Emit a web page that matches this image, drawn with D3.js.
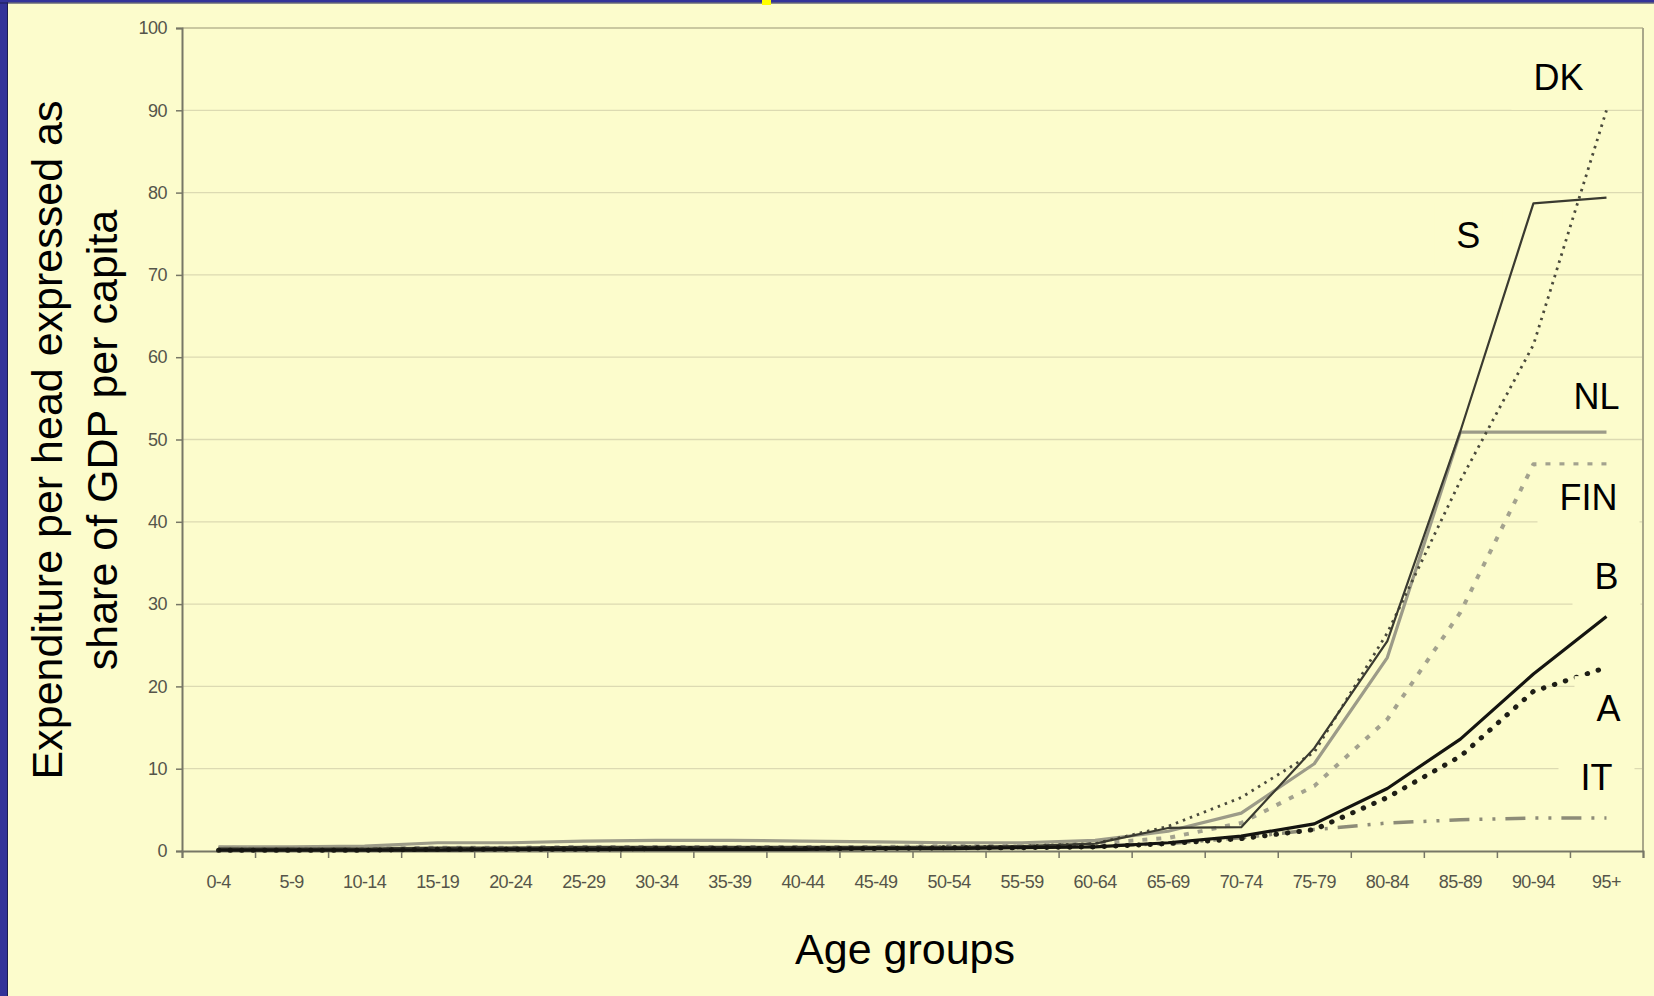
<!DOCTYPE html>
<html>
<head>
<meta charset="utf-8">
<script src="https://cdn.jsdelivr.net/npm/d3@7"></script>
<style>
  html, body { margin: 0; padding: 0; background: #fcfccc; }
  svg { display: block; }
</style>
</head>
<body>
<svg id="chart" width="1654" height="996"></svg>
<script>
// age bands on the x axis
const ageGroups = ['0-4', '5-9', '10-14', '15-19', '20-24', '25-29', '30-34', '35-39', '40-44', '45-49',
    '50-54', '55-59', '60-64', '65-69', '70-74', '75-79', '80-84', '85-89', '90-94', '95+']

// expenditure per head, % of GDP per capita
const dk  = [0.2, 0.2, 0.2, 0.3, 0.3, 0.3, 0.4, 0.4, 0.4, 0.4, 0.5, 0.6, 0.9, 3.0, 6.5, 12.0, 26.5, 45.0, 61.5, 90.0]
const s   = [0.3, 0.3, 0.3, 0.4, 0.4, 0.5, 0.5, 0.5, 0.5, 0.5, 0.5, 0.6, 0.9, 2.8, 2.9, 12.5, 25.5, 51.0, 78.7, 79.4]
const nl  = [0.5, 0.5, 0.6, 1.0, 1.0, 1.2, 1.3, 1.3, 1.2, 1.1, 1.0, 1.0, 1.3, 2.4, 4.6, 10.6, 23.5, 50.9, 50.9, 50.9]
const fin = [0.4, 0.3, 0.3, 0.4, 0.4, 0.5, 0.5, 0.5, 0.5, 0.5, 0.6, 0.7, 0.9, 1.6, 3.4, 7.9, 16.0, 29.0, 47.0, 47.0]
const b   = [0.1, 0.1, 0.1, 0.1, 0.2, 0.2, 0.2, 0.2, 0.2, 0.3, 0.3, 0.4, 0.5, 1.0, 1.8, 3.3, 7.6, 13.6, 21.5, 28.5]
const a   = [0.1, 0.1, 0.1, 0.2, 0.2, 0.2, 0.3, 0.3, 0.3, 0.3, 0.4, 0.4, 0.5, 0.9, 1.5, 2.6, 6.5, 11.5, 19.4, 22.3]
const it  = [0.3, 0.3, 0.3, 0.3, 0.3, 0.4, 0.4, 0.4, 0.4, 0.4, 0.4, 0.5, 0.6, 0.9, 1.6, 2.6, 3.4, 3.8, 4.0, 4.0]

const yTicks = [0, 10, 20, 30, 40, 50, 60, 70, 80, 90, 100]

// line looks, drawn in this order (grey ones underneath)
const series = [
    { name: 'NL',  values: nl,  color: '#9c9b88', width: 3.2, dash: null },
    { name: 'FIN', values: fin, color: '#a3a28e', width: 4,   dash: '5,9' },
    { name: 'IT',  values: it,  color: '#8d8c78', width: 3.5, dash: '20,10,3,10,3,10' },
    { name: 'DK',  values: dk,  color: '#4a4a3c', width: 2.8, dash: '2.5,5' },
    { name: 'S',   values: s,   color: '#3a3a30', width: 2.2, dash: null },
    { name: 'A',   values: a,   color: '#1e1e16', width: 5,   dash: '0.5,11', cap: 'round' },
    { name: 'B',   values: b,   color: '#141410', width: 3.2, dash: null }
]

// where each country name sits: band + pixel nudge, value for height
const labels = [
    { text: 'DK',  band: '95+',   dx: -48, v: 94.0 },
    { text: 'S',   band: '85-89', dx: 8,   v: 74.8 },
    { text: 'NL',  band: '95+',   dx: -10, v: 55.2 },
    { text: 'FIN', band: '95+',   dx: -18, v: 42.9 },
    { text: 'B',   band: '95+',   dx: 0,   v: 33.4 },
    { text: 'A',   band: '95+',   dx: 2,   v: 17.3 },
    { text: 'IT',  band: '95+',   dx: -10, v: 8.9 }
]

const W = 1654, H = 996
const plot = { left: 182, right: 1643, top: 28, bottom: 851 }
const bg = '#fcfccc'

const svg = d3.select('#chart')

svg.append('rect').attr('width', W).attr('height', H).attr('fill', bg)

// slide frame
svg.append('rect').attr('x', 0).attr('y', 0).attr('width', 7).attr('height', H).attr('fill', '#333399')
svg.append('rect').attr('x', 7).attr('y', 0).attr('width', 1).attr('height', H).attr('fill', '#1c1c50')
svg.append('rect').attr('x', 0).attr('y', 0).attr('width', W).attr('height', 2.5).attr('fill', '#333399')
svg.append('rect').attr('x', 0).attr('y', 2.5).attr('width', W).attr('height', 1).attr('fill', '#1c1c50')
svg.append('rect').attr('x', 762).attr('y', 0).attr('width', 9).attr('height', 5).attr('fill', '#ffff00')

const x = d3.scaleBand().domain(ageGroups).range([plot.left, plot.right])
const xEdge = d3.scaleLinear().domain([0, ageGroups.length]).range([plot.left, plot.right])
const y = d3.scaleLinear().domain([0, 100]).range([plot.bottom, plot.top])
const cx = d => x(d) + x.bandwidth() / 2

// gridlines
svg.append('g')
    .selectAll('line')
    .data(yTicks.filter(t => t > 0 && t < 100))
    .join('line')
    .attr('x1', plot.left).attr('x2', plot.right)
    .attr('y1', d => y(d)).attr('y2', d => y(d))
    .attr('stroke', '#dcdab2')
    .attr('stroke-width', 1.3)

// label patches that hide the gridlines behind the names
const labelG = svg.append('g')
labels.forEach(l => {
    let t = labelG.append('text')
        .attr('x', cx(l.band) + l.dx)
        .attr('y', y(l.v))
        .attr('text-anchor', 'middle')
        .attr('dominant-baseline', 'central')
        .style('font-family', '"Liberation Sans", Arial, sans-serif')
        .style('font-size', '36px')
        .attr('fill', '#000')
        .text(l.text)
    let bb = t.node().getBBox()
    labelG.insert('rect', 'text')
        .attr('x', bb.x - 22)
        .attr('y', bb.y - 12)
        .attr('width', Math.min(bb.width + 44, plot.right - 1 - (bb.x - 22)))
        .attr('height', bb.height + 24)
        .attr('fill', bg)
})

// frame of the plot area
svg.append('line')
    .attr('x1', plot.left).attr('x2', plot.right)
    .attr('y1', plot.top).attr('y2', plot.top)
    .attr('stroke', '#cac8a0').attr('stroke-width', 2.2)
svg.append('line')
    .attr('x1', plot.right).attr('x2', plot.right)
    .attr('y1', plot.top).attr('y2', plot.bottom)
    .attr('stroke', '#a9a78a').attr('stroke-width', 2)

// y axis
const yAxis = svg.append('g')
    .attr('transform', `translate(${plot.left},0)`)
    .call(d3.axisLeft(y).tickValues(yTicks).tickSize(6).tickPadding(9))
yAxis.select('.domain').attr('stroke', '#777766').attr('stroke-width', 2)
yAxis.selectAll('.tick line').attr('stroke', '#777766').attr('stroke-width', 1.5)
yAxis.selectAll('.tick text')
    .style('font-family', '"Liberation Sans", Arial, sans-serif')
    .style('font-size', '18px')
    .style('letter-spacing', '-0.5px')
    .attr('fill', '#55554a')

// x axis: ticks on band edges, names in the middle
const xTickAxis = svg.append('g')
    .attr('transform', `translate(0,${plot.bottom})`)
    .call(d3.axisBottom(xEdge).ticks(ageGroups.length).tickSize(7).tickFormat(''))
xTickAxis.select('.domain').attr('stroke', '#777766').attr('stroke-width', 2)
xTickAxis.selectAll('.tick line').attr('stroke', '#777766').attr('stroke-width', 1.5)

const xAxis = svg.append('g')
    .attr('transform', `translate(0,${plot.bottom})`)
    .call(d3.axisBottom(x).tickSize(0).tickPadding(24))
xAxis.select('.domain').remove()
xAxis.selectAll('.tick text')
    .style('font-family', '"Liberation Sans", Arial, sans-serif')
    .style('font-size', '18px')
    .style('letter-spacing', '-0.6px')
    .attr('fill', '#55554a')

// series
const line = d3.line()
    .x((d, i) => cx(ageGroups[i]))
    .y(d => y(d))

svg.append('g')
    .selectAll('path')
    .data(series)
    .join('path')
    .attr('d', d => line(d.values))
    .attr('fill', 'none')
    .attr('stroke', d => d.color)
    .attr('stroke-width', d => d.width)
    .attr('stroke-dasharray', d => d.dash)
    .attr('stroke-linecap', d => d.cap || 'butt')
    .attr('stroke-linejoin', 'round')

// labels on top
svg.node().appendChild(labelG.node())

// axis titles
const titleFont = '"Liberation Sans", Arial, sans-serif'
svg.append('text')
    .attr('transform', 'translate(47,440) rotate(-90)')
    .attr('text-anchor', 'middle')
    .attr('dominant-baseline', 'central')
    .style('font-family', titleFont)
    .style('font-size', '43px')
    .text('Expenditure per head expressed as')
svg.append('text')
    .attr('transform', 'translate(102,440) rotate(-90)')
    .attr('text-anchor', 'middle')
    .attr('dominant-baseline', 'central')
    .style('font-family', titleFont)
    .style('font-size', '43px')
    .text('share of GDP per capita')
svg.append('text')
    .attr('x', 905)
    .attr('y', 949)
    .attr('text-anchor', 'middle')
    .attr('dominant-baseline', 'central')
    .style('font-family', titleFont)
    .style('font-size', '43px')
    .text('Age groups')
</script>
</body>
</html>
